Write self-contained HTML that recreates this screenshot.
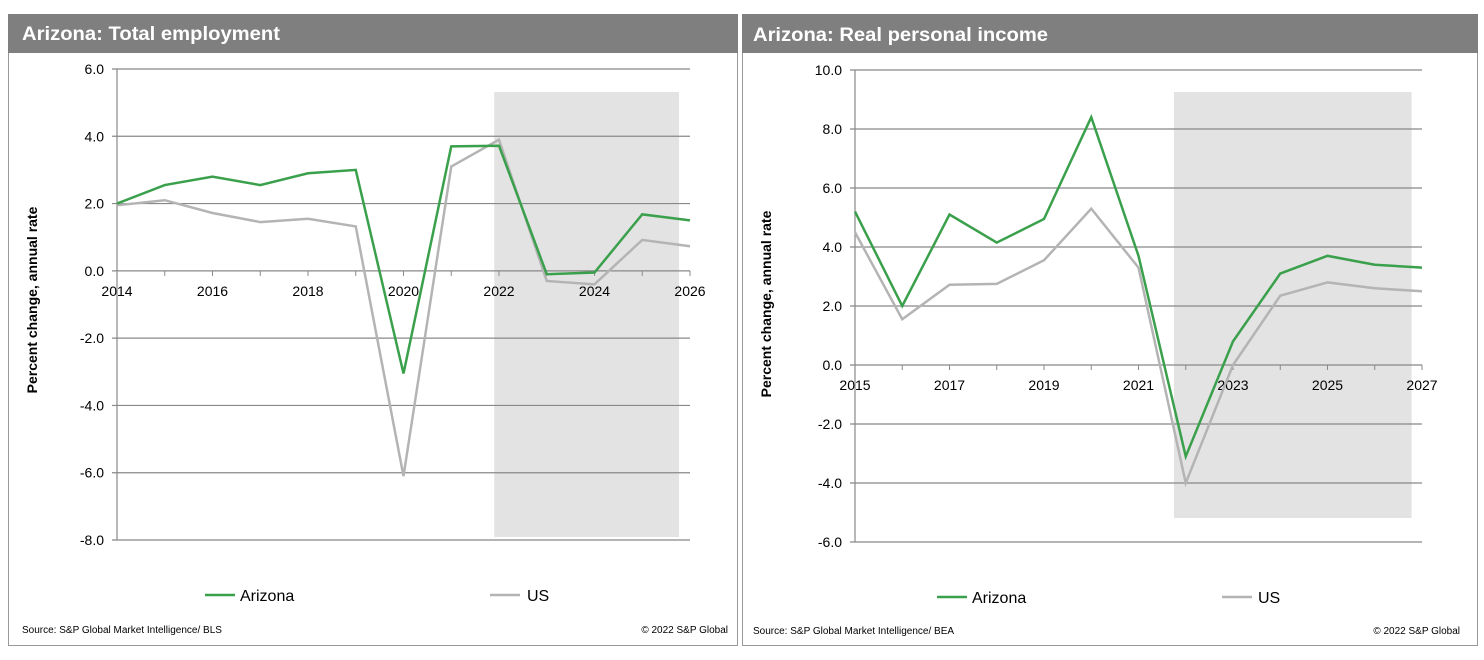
<!DOCTYPE html>
<html><head><meta charset="utf-8"><style>
body{margin:0;background:#fff;}
svg{display:block;font-family:"Liberation Sans",Arial,sans-serif;}
</style></head><body>
<svg id="s" width="1484" height="660" viewBox="0 0 1484 660">
<g>
<rect x="8.5" y="14.5" width="729" height="631" fill="#fff" stroke="#999"/>
<rect x="8" y="14" width="730" height="39" fill="#7f7f7f"/>
<text x="22" y="40" fill="#fff" font-size="19" font-weight="bold" textLength="258" lengthAdjust="spacingAndGlyphs">Arizona: Total employment</text>
<g id="c1"></g>
<text transform="translate(37,300) rotate(-90)" text-anchor="middle" font-size="14" font-weight="bold">Percent change, annual rate</text>
<line x1="205" y1="595" x2="235" y2="595" stroke="#3aa04c" stroke-width="2.5"/>
<text x="240" y="601" font-size="16">Arizona</text>
<line x1="490" y1="595" x2="520" y2="595" stroke="#b4b4b4" stroke-width="2.5"/>
<text x="527" y="601" font-size="16">US</text>
<text x="22" y="633" font-size="10">Source: S&amp;P Global Market Intelligence/ BLS</text>
<text x="728" y="633" font-size="10" text-anchor="end">© 2022 S&amp;P Global</text>
</g>
<g>
<rect x="742.5" y="14.5" width="735" height="631" fill="#fff" stroke="#999"/>
<rect x="742" y="14" width="736" height="39" fill="#7f7f7f"/>
<text x="753" y="41" fill="#fff" font-size="19" font-weight="bold" textLength="295" lengthAdjust="spacingAndGlyphs">Arizona: Real personal income</text>
<g id="c2"></g>
<text transform="translate(771,304) rotate(-90)" text-anchor="middle" font-size="14" font-weight="bold">Percent change, annual rate</text>
<line x1="937" y1="597" x2="967" y2="597" stroke="#3aa04c" stroke-width="2.5"/>
<text x="972" y="603" font-size="16">Arizona</text>
<line x1="1222" y1="597" x2="1252" y2="597" stroke="#b4b4b4" stroke-width="2.5"/>
<text x="1258" y="603" font-size="16">US</text>
<text x="753" y="634" font-size="10">Source: S&amp;P Global Market Intelligence/ BEA</text>
<text x="1460" y="634" font-size="10" text-anchor="end">© 2022 S&amp;P Global</text>
</g>
</svg>
<script>
const empYears=[2014,2015,2016,2017,2018,2019,2020,2021,2022,2023,2024,2025,2026];
const empAZ=[2.0,2.55,2.8,2.55,2.9,3.0,-3.05,3.7,3.72,-0.1,-0.05,1.68,1.5];
const empUS=[1.95,2.1,1.72,1.45,1.55,1.32,-6.1,3.1,3.9,-0.3,-0.4,0.92,0.73];
const empTicks=[6,4,2,0,-2,-4,-6,-8];
const incYears=[2015,2016,2017,2018,2019,2020,2021,2022,2023,2024,2025,2026,2027];
const incAZ=[5.2,2.0,5.1,4.15,4.95,8.4,3.7,-3.1,0.8,3.1,3.7,3.4,3.3];
const incUS=[4.5,1.55,2.72,2.75,3.55,5.3,3.3,-4.0,0.0,2.35,2.8,2.6,2.5];
const incTicks=[10,8,6,4,2,0,-2,-4,-6];
const NS='http://www.w3.org/2000/svg';
function mk(p,t,a){const e=document.createElementNS(NS,t);for(const k in a)e.setAttribute(k,a[k]);p.appendChild(e);return e;}
function draw(id,years,az,us,ticks,x0,x1,yTop,yBot,shade,labelX){
 const g=document.getElementById(id);
 const vmax=ticks[0],vmin=ticks[ticks.length-1];
 const X=i=>x0+(x1-x0)*i/(years.length-1);
 const Y=v=>yTop+(vmax-v)/(vmax-vmin)*(yBot-yTop);
 const sh=mk(g,'rect',{x:X(shade[0]),y:shade[2],width:X(shade[1])-X(shade[0]),height:shade[3]-shade[2],fill:'#e3e3e3'});
 
 
 ticks.forEach(t=>{
  const l=mk(g,'line',{x1:x0-5,x2:x1,y1:Y(t),y2:Y(t),stroke:'#888','stroke-width':1.2});
  
  
  const tx=mk(g,'text',{x:labelX,y:Y(t)+5,'text-anchor':'end','font-size':14});
  tx.textContent=t.toFixed(1);
  
  
 });
 const ax=mk(g,'line',{x1:x0,x2:x0,y1:yTop,y2:yBot,stroke:'#888','stroke-width':1.2});
 
 
 years.forEach((yr,i)=>{
  const tk=mk(g,'line',{x1:X(i),x2:X(i),y1:Y(0),y2:Y(0)+5,stroke:'#888'});
  
  
  if(i%2===0){
   const t=mk(g,'text',{x:X(i),y:Y(0)+25,'text-anchor':'middle','font-size':14});
   t.textContent=yr;
   
   
  }
 });
 const ul=mk(g,'polyline',{points:us.map((v,i)=>X(i)+','+Y(v)).join(' '),fill:'none',stroke:'#b4b4b4','stroke-width':2.5});
 
 
 const al=mk(g,'polyline',{points:az.map((v,i)=>X(i)+','+Y(v)).join(' '),fill:'none',stroke:'#3aa04c','stroke-width':2.5});
 
 
}
draw('c1',empYears,empAZ,empUS,empTicks,117,690,69,540,[7.9,11.77,92,537],104);
draw('c2',incYears,incAZ,incUS,incTicks,855,1422,70,542,[6.75,11.78,92,518],842);
</script>
</body></html>
